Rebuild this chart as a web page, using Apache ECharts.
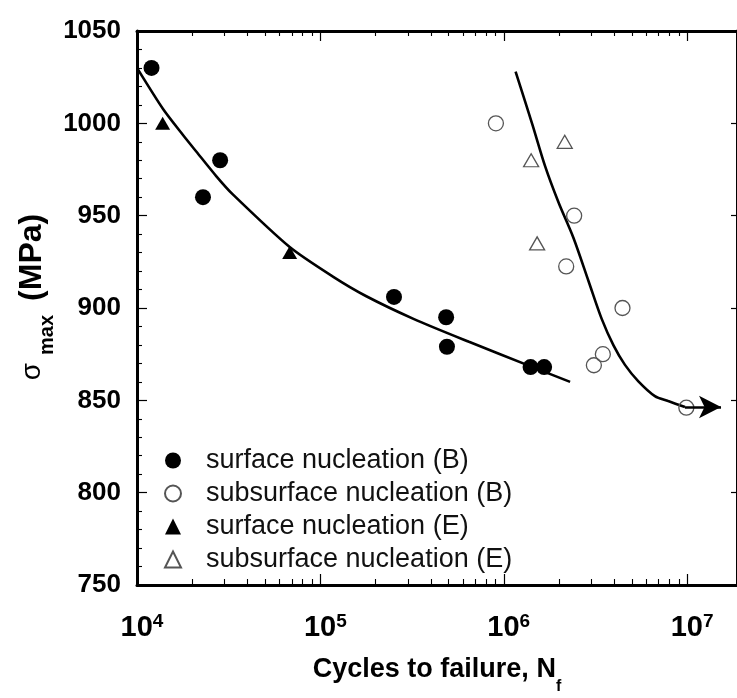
<!DOCTYPE html>
<html><head><meta charset="utf-8">
<script src="https://cdn.jsdelivr.net/npm/echarts@6/dist/echarts.min.js"></script>
<style>html,body{margin:0;padding:0;background:#fff}#c{width:737px;height:698px}</style>
</head><body><div id="c"></div>
<script>
// ---- data (cycles to failure, sigma_max in MPa) ----
const surfB_N = [1.20e4, 2.29e4, 2.84e4, 2.52e5, 4.85e5, 4.90e5, 1.40e6, 1.66e6];
const surfB_S = [1030, 960, 980, 906, 895, 879, 868, 868];
const subB_N = [9.06e5, 2.42e6, 2.19e6, 4.44e6, 3.47e6, 3.10e6, 9.9e6];
const subB_S = [1000, 950, 922.5, 900, 875, 869, 846];
const surfE_N = [1.38e4, 6.8e4];
const surfE_S = [1000, 930];
const subE_N = [2.15e6, 1.41e6, 1.52e6];
const subE_S = [990, 980, 935];
const fitSurf_N = [1.0e4, 1.39e4, 1.79e4, 2.11e4, 2.71e4, 3.33e4, 6.8e4, 1.17e5, 1.77e5, 3.24e5, 6.46e5, 1.37e6, 2.3e6];
const fitSurf_S = [1030, 1007.6, 993.4, 984.6, 971.3, 961.5, 933, 917, 906.5, 894, 881.7, 868.8, 860];
const fitSub_N = [1.16e6, 1.43e6, 1.68e6, 1.99e6, 2.40e6, 2.90e6, 3.42e6, 3.96e6, 4.58e6, 5.42e6, 6.67e6, 7.88e6, 9.73e6];
const fitSub_S = [1028, 999.6, 976.8, 957.1, 937.9, 914.5, 894.1, 879.9, 869.2, 860.3, 852.3, 849.6, 846.4];
const arrowFrom = [9.73e6, 846.4];
const arrowTo = [1.53e7, 846.4];
const seriesNames = ['surface nucleation (B)', 'subsurface nucleation (B)', 'surface nucleation (E)', 'subsurface nucleation (E)'];
const xMajorTicks = [1e4, 1e5, 1e6, 1e7];
const xMin = 1e4, xMax = 1.87e7;
const yMin = 750, yMax = 1050, yStep = 50;
const xTitle = 'Cycles to failure, N';
const xTitleSub = 'f';
const yTitleSym = 'σ';
const yTitleSub = 'max';
const yTitleUnit = '(MPa)';

const xMinorTicks = [];
xMajorTicks.forEach(d => { for (let k = 2; k <= 9; k++) { if (k * d < xMax) xMinorTicks.push(k * d); } });
const font = "'Liberation Sans', Arial, Helvetica, sans-serif";
const zip = (a, b) => a.map((v, i) => [v, b[i]]);

const chart = echarts.init(document.getElementById('c'), null, {renderer: 'canvas'});
const G = {left: 137, top: 31, width: 602, height: 554};
const logAxisBase = {type: 'log', logBase: 10, min: xMin, max: xMax, splitLine: {show: false}, minorTick: {show: false}, minorSplitLine: {show: false}};

const option = {
  animation: false,
  backgroundColor: '#fff',
  grid: [Object.assign({}, G), Object.assign({}, G)],
  xAxis: [
    Object.assign({}, logAxisBase, {
      gridIndex: 0, position: 'bottom',
      axisLine: {show: true, onZero: false, lineStyle: {color: '#000', width: 3}},
      axisTick: {show: true, inside: true, length: 11, customValues: xMajorTicks, lineStyle: {color: '#000', width: 1.2}},
      axisLabel: {
        show: true, customValues: xMajorTicks, margin: 27, color: '#000',
        formatter: v => '{sp|}{b|10}{s|' + Math.round(Math.log10(v)) + '}',
        rich: {
          sp: {width: 10, fontSize: 18},
          b: {fontSize: 29, fontWeight: 'bold', fontFamily: font, color: '#000', lineHeight: 32},
          s: {fontSize: 19, fontWeight: 'bold', fontFamily: font, color: '#000', lineHeight: 18, verticalAlign: 'top'}
        }
      }
    }),
    Object.assign({}, logAxisBase, {
      gridIndex: 0, position: 'top',
      axisLine: {show: true, onZero: false, lineStyle: {color: '#000', width: 3}},
      axisTick: {show: true, inside: true, length: 10, customValues: xMajorTicks, lineStyle: {color: '#000', width: 1.2}},
      axisLabel: {show: false}
    }),
    Object.assign({}, logAxisBase, {
      gridIndex: 1, position: 'bottom',
      axisLine: {show: false, onZero: false},
      axisTick: {show: true, inside: true, length: 6, customValues: xMinorTicks, lineStyle: {color: '#000', width: 1.1}},
      axisLabel: {show: false}
    }),
    Object.assign({}, logAxisBase, {
      gridIndex: 1, position: 'top',
      axisLine: {show: false, onZero: false},
      axisTick: {show: true, inside: true, length: 5, customValues: xMinorTicks, lineStyle: {color: '#000', width: 1.1}},
      axisLabel: {show: false}
    })
  ],
  yAxis: [
    {
      gridIndex: 0, type: 'value', min: yMin, max: yMax, interval: yStep, position: 'left',
      axisLine: {show: true, onZero: false, lineStyle: {color: '#000', width: 3}},
      axisTick: {show: true, inside: true, length: 10, lineStyle: {color: '#000', width: 1.2}},
      minorTick: {show: true, splitNumber: 5, length: 5, lineStyle: {color: '#000', width: 1.1}},
      axisLabel: {fontSize: 26, fontWeight: 'bold', fontFamily: font, color: '#000', margin: 16, formatter: v => String(v)},
      splitLine: {show: false}
    },
    {
      gridIndex: 0, type: 'value', min: yMin, max: yMax, interval: yStep, position: 'right',
      axisLine: {show: true, onZero: false, lineStyle: {color: '#000', width: 3}},
      axisTick: {show: true, inside: true, length: 6, lineStyle: {color: '#000', width: 1.2}},
      axisLabel: {show: false},
      splitLine: {show: false}
    },
    {gridIndex: 1, type: 'value', min: yMin, max: yMax, show: false, splitLine: {show: false}}
  ],
  legend: {
    orient: 'vertical', left: 164, top: 444, padding: 0, itemGap: 0,
    itemWidth: 16, itemHeight: 16, symbolKeepAspect: true,
    data: seriesNames,
    formatter: n => '{p|}{t|' + n + '}',
    textStyle: {
      fontSize: 27, fontFamily: font, color: '#111', lineHeight: 33,
      rich: {
        p: {width: 20, lineHeight: 33},
        t: {fontSize: 27, fontFamily: font, color: '#111', lineHeight: 33}
      }
    }
  },
  graphic: [
    {
      type: 'text', x: 437, y: 670, silent: true,
      style: {
        text: '{m|' + xTitle + '}{s|' + xTitleSub + '}',
        align: 'center', verticalAlign: 'middle',
        rich: {
          m: {fontSize: 27, fontWeight: 'bold', fontFamily: font, fill: '#000', lineHeight: 50},
          s: {fontSize: 16, fontWeight: 'bold', fontFamily: font, fill: '#000', lineHeight: 16, verticalAlign: 'bottom'}
        }
      }
    },
    {
      type: 'text', x: 32, y: 297, rotation: Math.PI / 2, silent: true,
      style: {
        text: '{g|' + yTitleSym + '}{gap1|}{s|' + yTitleSub + '}{gap2|}{m|' + yTitleUnit + '}',
        align: 'center', verticalAlign: 'middle',
        rich: {
          g: {fontSize: 28, fontFamily: font, fill: '#000', lineHeight: 50},
          gap1: {width: 8, lineHeight: 50},
          s: {fontSize: 20, fontWeight: 'bold', fontFamily: font, fill: '#000', lineHeight: 20, verticalAlign: 'bottom'},
          gap2: {width: 14, lineHeight: 50},
          m: {fontSize: 32, fontWeight: 'bold', fontFamily: font, fill: '#000', lineHeight: 50}
        }
      }
    }
  ],
  series: [
    {
      name: 'fitSurface', type: 'line', xAxisIndex: 0, yAxisIndex: 0, data: zip(fitSurf_N, fitSurf_S),
      symbol: 'none', smooth: 0.25, lineStyle: {color: '#000', width: 2.6}, z: 2, silent: true
    },
    {
      name: 'fitSubsurface', type: 'line', xAxisIndex: 0, yAxisIndex: 0, data: zip(fitSub_N, fitSub_S),
      symbol: 'none', smooth: 0.3, lineStyle: {color: '#000', width: 2.6}, z: 2, silent: true,
      markLine: {
        silent: true, symbol: ['none', 'arrow'], symbolSize: [17, 22],
        label: {show: false}, lineStyle: {color: '#000', width: 2.6, type: 'solid'},
        data: [[{coord: arrowFrom}, {coord: arrowTo}]]
      }
    },
    {
      name: seriesNames[0], type: 'scatter', xAxisIndex: 0, yAxisIndex: 0, data: zip(surfB_N, surfB_S),
      symbol: 'circle', symbolSize: 16, itemStyle: {color: '#000', opacity: 1}, z: 3
    },
    {
      name: seriesNames[1], type: 'scatter', xAxisIndex: 0, yAxisIndex: 0, data: zip(subB_N, subB_S),
      symbol: 'circle', symbolSize: 15, itemStyle: {color: 'rgba(255,255,255,0)', borderColor: '#555', borderWidth: 1.3, opacity: 1}, z: 3
    },
    {
      name: seriesNames[2], type: 'scatter', xAxisIndex: 0, yAxisIndex: 0, data: zip(surfE_N, surfE_S),
      symbol: 'triangle', symbolSize: [15, 13], itemStyle: {color: '#000', opacity: 1}, z: 3
    },
    {
      name: seriesNames[3], type: 'scatter', xAxisIndex: 0, yAxisIndex: 0, data: zip(subE_N, subE_S),
      symbol: 'triangle', symbolSize: [15, 13], itemStyle: {color: 'rgba(255,255,255,0)', borderColor: '#555', borderWidth: 1.3, opacity: 1}, z: 3
    }
  ]
};
chart.setOption(option);
</script>
</body></html>
